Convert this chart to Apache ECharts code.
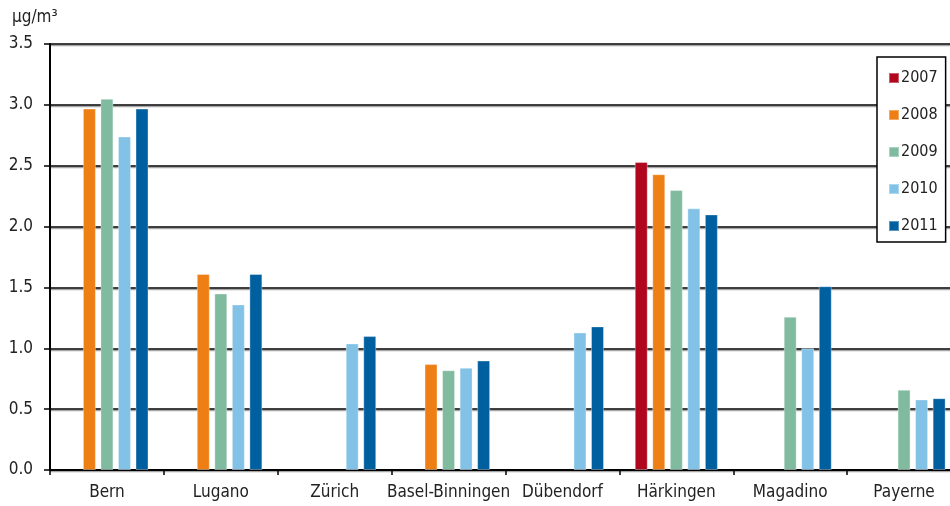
<!DOCTYPE html>
<html>
<head>
<meta charset="utf-8">
<script src="https://cdn.jsdelivr.net/npm/echarts@6/dist/echarts.min.js"></script>
<style>
  html, body { margin: 0; padding: 0; background: #fff; overflow: hidden; }
  #chart { width: 961px; height: 506px; }
</style>
</head>
<body>
<div id="chart"></div>
<script>
// Stations and annual mean concentrations (µg/m³); null = no measurement
const stations = ['Bern', 'Lugano', 'Zürich', 'Basel-Binningen', 'Dübendorf', 'Härkingen', 'Magadino', 'Payerne'];
const years = ['2007', '2008', '2009', '2010', '2011'];
const values2007 = [null, null, null, null, null, 2.53, null, null];
const values2008 = [2.97, 1.61, null, 0.87, null, 2.43, null, null];
const values2009 = [3.05, 1.45, null, 0.82, null, 2.30, 1.26, 0.66];
const values2010 = [2.74, 1.36, 1.04, 0.84, 1.13, 2.15, 1.00, 0.58];
const values2011 = [2.97, 1.61, 1.10, 0.90, 1.18, 2.10, 1.51, 0.59];
const yTicks = [0, 0.5, 1.0, 1.5, 2.0, 2.5, 3.0, 3.5];

const colors = ['#b0071e', '#ee7f14', '#80bba0', '#82c2e6', '#00609f'];
const seriesValues = [values2007, values2008, values2009, values2010, values2011];

const font = '"Liberation Sans Narrow", "DejaVu Sans Condensed", "Liberation Sans", sans-serif';

const chart = echarts.init(document.getElementById('chart'), null, { renderer: 'canvas' });
chart.setOption({
  animation: false,
  color: colors,
  textStyle: { fontFamily: font },
  graphic: [{
    type: 'text',
    left: 12,
    top: 9,
    style: { text: 'µg/m³', font: '17px ' + font, fill: '#222' }
  }],
  legend: {
    orient: 'vertical',
    left: 877,
    top: 57,
    itemWidth: 10,
    itemHeight: 10,
    itemGap: 21,
    icon: 'rect',
    padding: [13, 8, 8, 11],
    backgroundColor: '#fff',
    borderColor: '#000',
    borderWidth: 1.5,
    textStyle: { fontFamily: font, fontSize: 16, color: '#222', padding: [0, 0, 0, -3] },
    data: years
  },
  grid: { left: 50, right: 0, top: 44, bottom: 36, containLabel: false },
  xAxis: {
    type: 'category',
    data: stations,
    axisLine: { lineStyle: { color: '#000', width: 2 } },
    axisTick: { show: true, interval: 0, length: 5, lineStyle: { color: '#000', width: 1.5 } },
    axisLabel: { interval: 0, fontFamily: font, fontSize: 17, color: '#222', margin: 14 }
  },
  yAxis: {
    type: 'value',
    min: yTicks[0],
    max: yTicks[yTicks.length - 1],
    interval: 0.5,
    axisLine: { show: true, lineStyle: { color: '#000', width: 2 } },
    axisTick: { show: true, length: 6, lineStyle: { color: '#000', width: 1.5 } },
    axisLabel: {
      fontFamily: font, fontSize: 17, color: '#222', margin: 17,
      formatter: v => v.toFixed(1)
    },
    splitLine: {
      show: true,
      lineStyle: { color: '#000', width: 1.5, shadowColor: 'rgba(0,0,0,0.35)', shadowOffsetY: 1.5, shadowBlur: 0 }
    }
  },
  series: years.map((y, i) => ({
    name: y,
    type: 'bar',
    data: seriesValues[i],
    barGap: '35%',
    barCategoryGap: '27%',
    itemStyle: { color: colors[i], borderColor: 'rgba(255,255,255,0.35)', borderWidth: 1 }
  }))
});
</script>
</body>
</html>
